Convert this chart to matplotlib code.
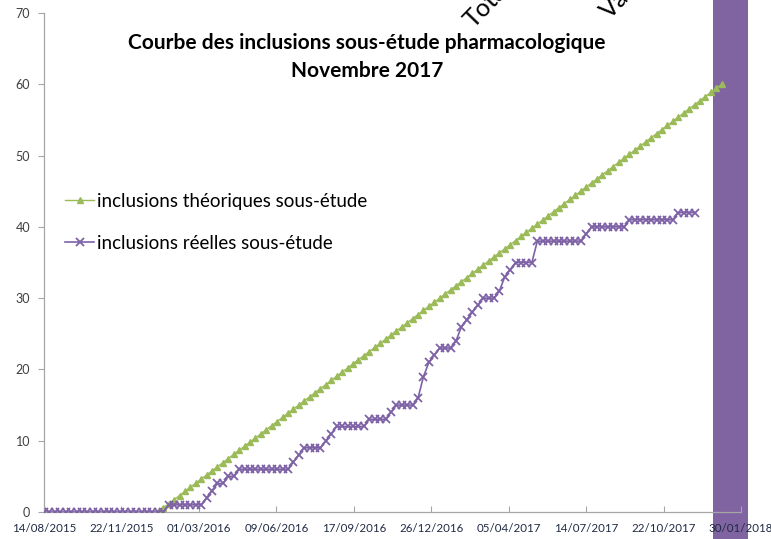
import matplotlib
matplotlib.use("Agg")
import matplotlib.pyplot as plt
from matplotlib.patches import Rectangle
import pandas as pd

plt.rcParams['font.family'] = ['Lato', 'DejaVu Sans']

title = "Courbe des inclusions sous-étude pharmacologique\nNovembre 2017"
label_theo = "inclusions théoriques sous-étude"
label_reel = "inclusions réelles sous-étude"

reel_start = "2015-08-14"
reel_values = [0] * 23 + [1] * 7 + [2, 3, 4, 4, 5, 5] + [6] * 10 + [7, 8, 9, 9, 9, 9] + \
    [10, 11, 12, 12, 12, 12, 12, 12] + [13, 13, 13, 13, 14, 15, 15, 15, 15, 16, 19, 21, 22,
    23, 23, 23, 24, 26, 27, 28, 29, 30, 30, 30, 31, 33, 34, 35, 35, 35, 35] + \
    [38] * 9 + [39] + [40] * 7 + [41] * 9 + [42] * 4

theo_start = "2016-01-08"
theo_values = [0, 0.58, 1.15, 1.73, 2.31, 2.88, 3.46, 4.04, 4.62, 5.19, 5.77, 6.35, 6.92,
    7.50, 8.08, 8.65, 9.23, 9.81, 10.38, 10.96, 11.54, 12.12, 12.69, 13.27, 13.85, 14.42,
    15.00, 15.58, 16.15, 16.73, 17.31, 17.88, 18.46, 19.04, 19.62, 20.19, 20.77, 21.35,
    21.92, 22.50, 23.08, 23.65, 24.23, 24.81, 25.38, 25.96, 26.54, 27.12, 27.69, 28.27,
    28.85, 29.42, 30.00, 30.58, 31.15, 31.73, 32.31, 32.88, 33.46, 34.04, 34.62, 35.19,
    35.77, 36.35, 36.92, 37.50, 38.08, 38.65, 39.23, 39.81, 40.38, 40.96, 41.54, 42.12,
    42.69, 43.27, 43.85, 44.42, 45.00, 45.58, 46.15, 46.73, 47.31, 47.88, 48.46, 49.04,
    49.62, 50.19, 50.77, 51.35, 51.92, 52.50, 53.08, 53.65, 54.23, 54.81, 55.38, 55.96,
    56.54, 57.12, 57.69, 58.27, 58.85, 59.42, 60.00]

tick_dates = ["2015-08-14", "2015-11-22", "2016-03-01", "2016-06-09", "2016-09-17",
              "2016-12-26", "2017-04-05", "2017-07-14", "2017-10-22", "2018-01-30"]
y_ticks = [0, 10, 20, 30, 40, 50, 60, 70]

reel_dates = pd.date_range(reel_start, periods=len(reel_values), freq="7D")
theo_dates = pd.date_range(theo_start, periods=len(theo_values), freq="7D")

W, H = 771, 539
fig = plt.figure(figsize=(W / 100, H / 100), dpi=100)
fig.patch.set_facecolor("white")
ax = fig.add_axes([44 / W, 1 - 512 / H, (741 - 44) / W, (512 - 13) / H])
ax.set_facecolor("none")

band = Rectangle((713 / W, 0), 35 / W, 1, transform=fig.transFigure,
                 facecolor="#8064A2", edgecolor="none", zorder=-1)
fig.add_artist(band)

green = "#9BBB59"
purple = "#7E62A6"
ax.plot(theo_dates, theo_values, color=green, lw=1.0, marker="^", ms=4,
        mfc=green, mec=green, label=label_theo, zorder=3)
ax.plot(reel_dates, reel_values, color=purple, lw=1.2, marker="x", ms=6,
        mew=1.3, label=label_reel, zorder=4)

ax.set_ylim(0, 70)
ax.set_yticks(y_ticks)
xt = pd.to_datetime(tick_dates)
ax.set_xlim(xt[0], xt[-1])
ax.set_xticks(xt)
ax.set_xticklabels([d.strftime("%d/%m/%Y") for d in xt])

for s in ["top", "right"]:
    ax.spines[s].set_visible(False)
for s in ["left", "bottom"]:
    ax.spines[s].set_color("#A6A6A6")
    ax.spines[s].set_linewidth(0.9)
ax.tick_params(axis="y", direction="out", length=4, color="#A6A6A6",
               labelsize=9, labelcolor="#404040", pad=6)
ax.tick_params(axis="x", direction="in", length=4, color="#A6A6A6",
               labelsize=8.3, labelcolor="#1F2A44", pad=8)

fig.text(367 / W, 1 - 57 / H, title, ha="center", va="center", fontsize=15,
         fontweight="bold", linespacing=1.55, color="black")

leg = ax.legend(loc="upper left", bbox_to_anchor=(0.02, 0.655), frameon=False,
                fontsize=13.5, handlelength=1.5, handletextpad=0.2,
                labelspacing=1.35, borderaxespad=0)

fig.text(474 / W, 1 - 29 / H, "Total", rotation=46, fontsize=18, ha="left",
         va="baseline", rotation_mode="anchor")
fig.text(610 / W, 1 - 20 / H, "Valeur", rotation=46, fontsize=18, ha="left",
         va="baseline", rotation_mode="anchor")

fig.savefig("out.png", dpi=100)
